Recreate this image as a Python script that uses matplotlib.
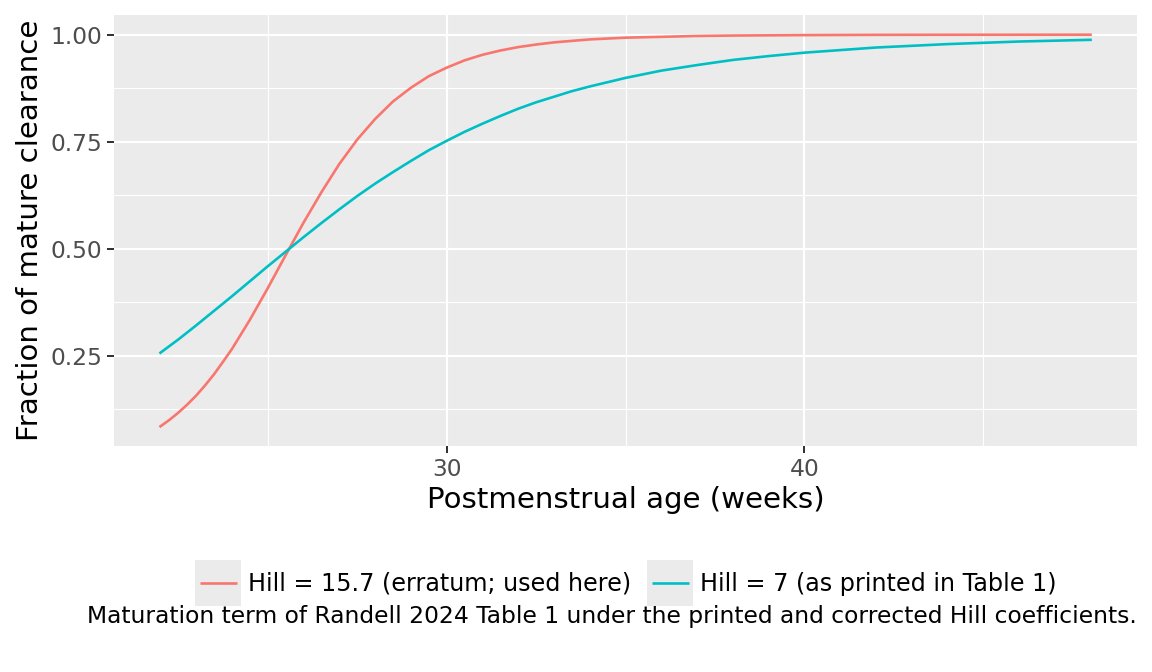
import matplotlib
matplotlib.use("Agg")
import matplotlib.pyplot as plt
from matplotlib.legend_handler import HandlerBase
from matplotlib.patches import Rectangle
from matplotlib.lines import Line2D

# valeurs (fraction de la clairance mature)
pma_hill157 = [22, 22.25, 22.5, 22.75, 23, 23.25, 23.5, 23.75, 24, 24.5, 25, 25.5,
               26, 26.5, 27, 27.5, 28, 28.5, 29, 29.5, 30, 30.5, 31, 31.5, 32, 32.5,
               33, 33.5, 34, 35, 36, 37, 38, 40, 42, 44, 46, 48]
frac_hill157 = [0.085, 0.100, 0.117, 0.136, 0.157, 0.181, 0.207, 0.236, 0.266, 0.334,
                0.408, 0.485, 0.561, 0.632, 0.698, 0.755, 0.803, 0.844, 0.876, 0.903,
                0.923, 0.940, 0.953, 0.963, 0.971, 0.977, 0.982, 0.9855, 0.989, 0.993,
                0.995, 0.997, 0.998, 0.999, 0.9996, 0.9998, 0.9999, 0.99995]

pma_hill7 = [22, 22.5, 23, 23.5, 24, 24.5, 25, 25.5, 26, 26.5, 27, 27.5, 28, 28.5,
             29, 29.5, 30, 30.5, 31, 31.5, 32, 32.5, 33, 33.5, 34, 35, 36, 37, 38,
             39, 40, 41, 42, 43, 44, 45, 46, 47, 48]
frac_hill7 = [0.257, 0.288, 0.321, 0.355, 0.389, 0.424, 0.459, 0.493, 0.527, 0.560,
              0.592, 0.623, 0.652, 0.679, 0.705, 0.730, 0.752, 0.773, 0.792, 0.810,
              0.827, 0.842, 0.855, 0.868, 0.879, 0.899, 0.916, 0.929, 0.941,
              0.950, 0.958, 0.964, 0.970, 0.974, 0.978, 0.981, 0.984, 0.986, 0.988]

labels = ["Hill = 15.7 (erratum; used here)", "Hill = 7 (as printed in Table 1)"]
colors = ["#F8766D", "#00BFC4"]
x_ticks = [30, 40]
y_ticks = [0.25, 0.50, 0.75, 1.00]
caption = ("Maturation term of Randell 2024 Table 1 under the printed and "
           "corrected Hill coefficients.")

FS = 9.35  # graduations et légende du bas
FL = 9.55  # texte de la légende
FT = 11.7  # titres des axes


class BoxedLine(HandlerBase):
    # clé de légende façon ggplot : carré gris + segment
    def create_artists(self, legend, orig, xd, yd, w, h, fs, trans):
        cy = -yd + h / 2
        box = Rectangle((-xd, cy - w / 2), w, w, facecolor="#EBEBEB",
                        edgecolor="none", transform=trans)
        seg = Line2D([-xd + 0.1 * w, -xd + 0.9 * w], [cy, cy],
                     color=orig.get_color(), lw=orig.get_linewidth(),
                     solid_capstyle="butt", transform=trans)
        return [box, seg]


plt.rcParams["font.family"] = "DejaVu Sans"

fig = plt.figure(figsize=(1152 / 180, 672 / 180), dpi=180)
ax = fig.add_axes([114 / 1152, 1 - 446 / 672, (1137 - 114) / 1152, (446 - 15) / 672])
ax.set_facecolor("#EBEBEB")

l1, = ax.plot(pma_hill157, frac_hill157, color=colors[0], lw=1.05,
              solid_joinstyle="round")
l2, = ax.plot(pma_hill7, frac_hill7, color=colors[1], lw=1.05,
              solid_joinstyle="round")

ax.set_xlim(20.7, 49.3)
ax.set_ylim(0.039, 1.046)
ax.set_xticks(x_ticks)
ax.set_yticks(y_ticks)
ax.set_yticklabels([f"{v:.2f}" for v in y_ticks])
ax.set_xticks([25, 35, 45], minor=True)
ax.set_yticks([0.125, 0.375, 0.625, 0.875], minor=True)

ax.grid(which="major", color="white", lw=0.85)
ax.grid(which="minor", color="white", lw=0.45)
ax.set_axisbelow(True)
for s in ax.spines.values():
    s.set_visible(False)
ax.tick_params(which="major", length=2.75, width=0.8, color="#333333",
               labelcolor="#4D4D4D", labelsize=FS, pad=2.0)
ax.tick_params(which="minor", length=0)

fig.text(626 / 1152, 1 - 500 / 672, "Postmenstrual age (weeks)", ha="center",
         va="center", fontsize=FT)
fig.text(30 / 1152, 1 - 230 / 672, "Fraction of mature clearance", ha="center",
         va="center", rotation=90, fontsize=FT)

fig.legend([l1, l2], labels, loc="center", bbox_to_anchor=(626 / 1152, 1 - 583 / 672),
           ncol=2, frameon=False, fontsize=FL, handlelength=1.93, handleheight=1.93,
           handletextpad=0.3, columnspacing=0.65, borderpad=0, borderaxespad=0,
           handler_map={Line2D: BoxedLine()})

fig.text(1137 / 1152, 1 - 616 / 672, caption, ha="right", va="center", fontsize=FS)

fig.savefig("out.png", dpi=180)
